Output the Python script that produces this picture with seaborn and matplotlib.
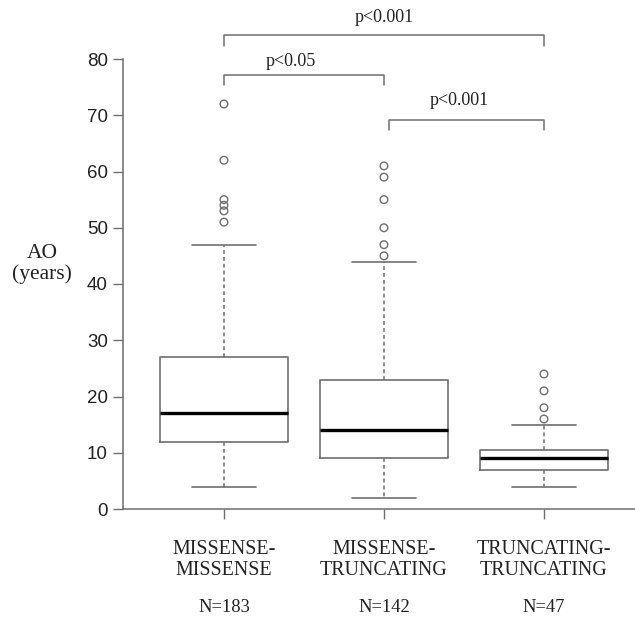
import numpy as np
import pandas as pd
import seaborn as sns
import matplotlib.pyplot as plt

# values
groups = ["MISSENSE-\nMISSENSE", "MISSENSE-\nTRUNCATING", "TRUNCATING-\nTRUNCATING"]
n_labels = ["N=183", "N=142", "N=47"]
whis_lo = [4, 2, 4]
q1 = [12, 9, 7]
med = [17, 14, 9]
q3 = [27, 23, 10.5]
whis_hi = [47, 44, 15]
outliers = [[51, 53, 54, 55, 62, 72], [45, 47, 50, 55, 59, 61], [16, 18, 21, 24]]
yticks = [0, 10, 20, 30, 40, 50, 60, 70, 80]
p_labels = ["p<0.001", "p<0.05", "p<0.001"]

sns.set_style("ticks")
plt.rcParams['font.family'] = ['Liberation Sans', 'DejaVu Sans']
serif = ['Liberation Serif', 'DejaVu Serif']
gray = "#6e6e6e"

fig = plt.figure(figsize=(6.35, 6.19), dpi=100)
ax = fig.add_axes([123/635, 110/619, 512/635, 450/619])

# outlier points
fl = pd.DataFrame({"group": [groups[i] for i in range(3) for v in outliers[i]],
                   "AO": [v for i in range(3) for v in outliers[i]]})
sns.stripplot(data=fl, x="group", y="AO", order=groups, jitter=False, ax=ax,
              color="white", edgecolor=gray, linewidth=1.0, size=5.5, zorder=3)
for c in ax.collections:
    c.set_facecolor("none")
    c.set_edgecolor(gray)

stats = [dict(whislo=whis_lo[i], q1=q1[i], med=med[i], q3=q3[i], whishi=whis_hi[i], fliers=[])
         for i in range(3)]
ax.bxp(stats, positions=[0, 1, 2], widths=0.8, capwidths=0.4, showfliers=False,
       manage_ticks=False, patch_artist=False,
       boxprops=dict(color=gray, lw=1.2),
       medianprops=dict(color="black", lw=2.4),
       whiskerprops=dict(color=gray, lw=1.1, linestyle=(0, (2.5, 2))),
       capprops=dict(color=gray, lw=1.2))

ax.set_xlim(-0.631, 2.569)
ax.set_ylim(0, 80)
ax.set_yticks(yticks)
ax.set_yticklabels([str(t) for t in yticks], fontsize=13.5, color="#222222")
ax.set_xticks([0, 1, 2])
ax.set_xticklabels(groups, fontfamily=serif, fontsize=14.4, color="#222222", linespacing=1.1)
ax.tick_params(axis="y", length=7, width=1, color=gray, pad=4)
ax.tick_params(axis="x", length=7, width=1, color=gray, pad=15.5)
ax.set_xlabel("")
ax.set_ylabel("")
sns.despine(ax=ax)
for s in ["left", "bottom"]:
    ax.spines[s].set_color(gray)
    ax.spines[s].set_linewidth(1.1)

for i, t in enumerate(n_labels):
    ax.text(i, -0.218, t, transform=ax.get_xaxis_transform(), ha="center", va="center",
            fontfamily=serif, fontsize=13.3, color="#222222")

fig.text(42/635, 1 - 264/619, "AO\n(years)", ha="center", va="center",
         fontfamily=serif, fontsize=15.5, color="#222222", linespacing=1.15)

# significance brackets
brackets = [(0, 2, 84.3, 82.3, 1.0, 87.3), (0, 1, 77.2, 75.4, 0.42, 79.6), (1.03, 2, 69.2, 67.3, 1.47, 72.7)]
for (x0, x1, yt, yb, tx, ty), lab in zip(brackets, p_labels):
    ax.plot([x0, x0, x1, x1], [yb, yt, yt, yb], color=gray, lw=1.1, clip_on=False)
    ax.text(tx, ty, lab, ha="center", va="center", fontfamily=serif, fontsize=13,
            color="#222222", clip_on=False)

fig.savefig("out.png", dpi=100)
